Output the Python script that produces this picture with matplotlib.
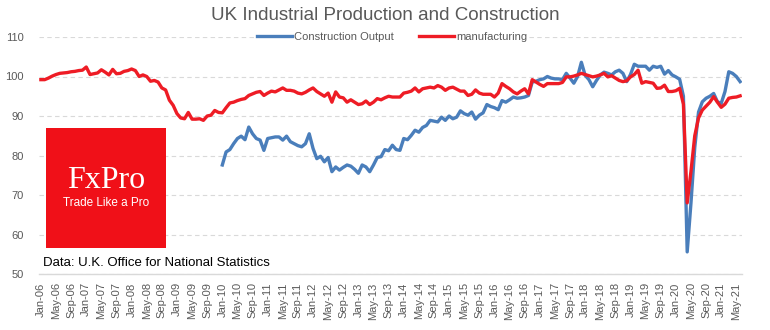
import numpy as np
import pandas as pd
import matplotlib
matplotlib.use("Agg")
import matplotlib.pyplot as plt
from matplotlib.patches import Rectangle

# monthly index values, Jan-06 .. Jun-21
months = pd.date_range("2006-01-01", periods=186, freq="MS").strftime("%b-%y").tolist()

manufacturing = [
    99.2, 99.2, 99.6, 100.1, 100.5, 100.8, 100.9, 101.0, 101.2, 101.3, 101.5, 101.6,   # 2006
    102.4, 100.5, 100.7, 100.9, 101.7, 101.1, 100.4, 101.8, 100.7, 100.8, 101.3, 101.5,  # 2007
    101.9, 101.5, 100.0, 100.4, 100.0, 98.8, 99.0, 98.6, 97.1, 96.6, 94.0, 92.7,  # 2008
    90.6, 89.5, 89.3, 90.9, 89.2, 89.2, 89.3, 88.9, 90.0, 90.2, 91.4, 90.9,  # 2009
    90.8, 92.1, 93.3, 93.5, 93.9, 94.2, 94.4, 95.2, 95.6, 96.0, 96.2, 95.2,  # 2010
    95.8, 96.3, 96.1, 96.6, 97.1, 96.5, 96.5, 96.3, 95.8, 95.6, 96.0, 96.6,  # 2011
    97.1, 96.2, 95.6, 95.0, 95.8, 93.5, 96.1, 94.8, 94.6, 93.5, 94.1, 93.5,  # 2012
    92.9, 93.1, 93.8, 92.9, 93.5, 94.4, 94.1, 94.6, 95.0, 94.8, 94.8, 94.8,  # 2013
    95.8, 96.0, 96.3, 97.1, 96.1, 96.9, 97.1, 97.3, 97.1, 97.7, 97.3, 96.5,  # 2014
    97.1, 97.3, 96.8, 96.3, 96.3, 95.2, 95.5, 96.6, 95.8, 95.5, 95.5, 95.5,  # 2015
    94.8, 95.8, 98.2, 97.5, 96.9, 96.1, 95.6, 96.3, 96.9, 95.6, 99.2, 98.6,  # 2016
    98.0, 97.5, 98.2, 98.2, 98.2, 98.2, 98.5, 99.9, 99.9, 100.1, 100.4, 100.8,  # 2017
    100.5, 100.2, 99.9, 100.1, 100.4, 100.8, 99.9, 100.2, 99.6, 99.0, 98.7, 98.9,  # 2018
    99.9, 100.5, 101.6, 98.3, 98.7, 98.5, 98.3, 97.0, 97.1, 97.8, 96.2, 96.2,  # 2019
    96.4, 97.0, 93.0, 68.0, 76.0, 85.0, 89.5, 91.5, 92.5, 93.5, 94.9, 93.5,  # 2020
    92.2, 93.0, 94.5, 94.7, 94.8, 95.1,  # 2021
]

# construction series only starts in Jan-10
construction = [np.nan] * 48 + [
    77.6, 80.9, 81.5, 83.0, 84.3, 84.9, 84.0, 87.2, 85.5, 84.3, 83.9, 81.3,  # 2010
    84.3, 84.5, 84.7, 84.7, 83.9, 84.9, 83.5, 83.0, 82.5, 82.2, 83.0, 85.5,  # 2011
    81.8, 79.2, 79.8, 78.4, 79.5, 75.9, 77.1, 76.3, 77.0, 77.6, 77.3, 76.5,  # 2012
    75.5, 77.6, 77.1, 75.9, 77.6, 79.5, 79.7, 81.5, 81.2, 82.6, 81.5, 81.3,  # 2013
    84.3, 84.0, 85.1, 86.4, 85.9, 87.1, 87.6, 88.9, 88.7, 88.5, 89.7, 88.9,  # 2014
    90.0, 89.3, 89.7, 91.3, 90.6, 90.2, 91.0, 89.2, 90.2, 90.8, 92.9, 92.4,  # 2015
    92.1, 91.6, 93.9, 93.5, 94.1, 94.8, 94.5, 94.6, 94.8, 95.2, 98.6, 98.8,  # 2016
    99.2, 99.4, 100.0, 99.6, 99.4, 99.4, 99.2, 100.8, 99.6, 98.3, 100.0, 103.6,  # 2017
    100.3, 99.2, 97.4, 99.0, 100.4, 101.1, 100.8, 100.4, 101.2, 101.6, 100.8, 98.7,  # 2018
    100.5, 103.1, 102.6, 102.6, 102.6, 101.6, 102.6, 102.3, 102.6, 100.6, 101.5, 100.4,  # 2019
    99.9, 99.3, 95.0, 55.6, 68.0, 82.0, 91.0, 93.6, 94.5, 95.0, 95.7, 93.6,  # 2020
    93.2, 96.2, 101.2, 100.8, 100.0, 98.7,  # 2021
]

BLUE = "#4a7ebb"
RED = "#ee1c25"
GREY = "#595959"
plt.rcParams["font.family"] = ["Liberation Sans", "DejaVu Sans"]

fig = plt.figure(figsize=(7.7, 3.3), dpi=100)
ax = fig.add_axes([39 / 770, 56 / 330, 703 / 770, 237 / 330])

x = np.arange(len(months))
ax.plot(x, construction, color=BLUE, lw=2.4, label="Construction Output", solid_joinstyle="round")
ax.plot(x, manufacturing, color=RED, lw=2.4, label="manufacturing", solid_joinstyle="round")

ax.set_xlim(-0.5, len(months) - 0.5)
ax.set_ylim(50, 110)
ax.set_yticks(range(50, 111, 10))
ax.set_xticks(x[::4])
ax.set_xticklabels(months[::4], rotation=90, fontsize=8, color=GREY)
ax.tick_params(axis="y", labelsize=8, labelcolor=GREY, length=0, pad=11)
ax.tick_params(axis="x", length=0, pad=6)

ax.grid(axis="y", color="#d9d9d9", lw=0.8, ls=(0, (4, 3)))
ax.set_axisbelow(True)
for side in ["top", "right", "left"]:
    ax.spines[side].set_visible(False)
ax.spines["bottom"].set_color("#d9d9d9")
ax.spines["bottom"].set_linewidth(1.0)

fig.text(0.5, 1 - 16 / 330, "UK Industrial Production and Construction",
         ha="center", va="center", fontsize=13.5, color=GREY)

leg = fig.legend(loc="center", bbox_to_anchor=(392 / 770, 1 - 37 / 330), ncol=2,
                 fontsize=8, frameon=True, handlelength=3.2, handletextpad=0.2,
                 columnspacing=2.2, borderpad=0.1)
leg.get_frame().set_facecolor("white")
leg.get_frame().set_edgecolor("none")
leg.get_frame().set_alpha(1)
for t in leg.get_texts():
    t.set_color(GREY)

# FxPro badge over the lower left of the plot
fig.patches.append(Rectangle((46 / 770, 1 - 248 / 330), 120 / 770, 120 / 330,
                             transform=fig.transFigure, facecolor="#f01018",
                             edgecolor="none", zorder=5))
fig.text(106 / 770, 1 - 181 / 330, "FxPro", ha="center", va="center", fontsize=23,
         color="white", family="Liberation Serif", zorder=6)
fig.text(106 / 770, 1 - 203 / 330, "Trade Like a Pro", ha="center", va="center",
         fontsize=8.5, color="white", zorder=6)

fig.text(43 / 770, 1 - 263 / 330, "Data: U.K. Office for National Statistics",
         ha="left", va="center", fontsize=9.5, color="black")

fig.savefig("out.png", dpi=100)
